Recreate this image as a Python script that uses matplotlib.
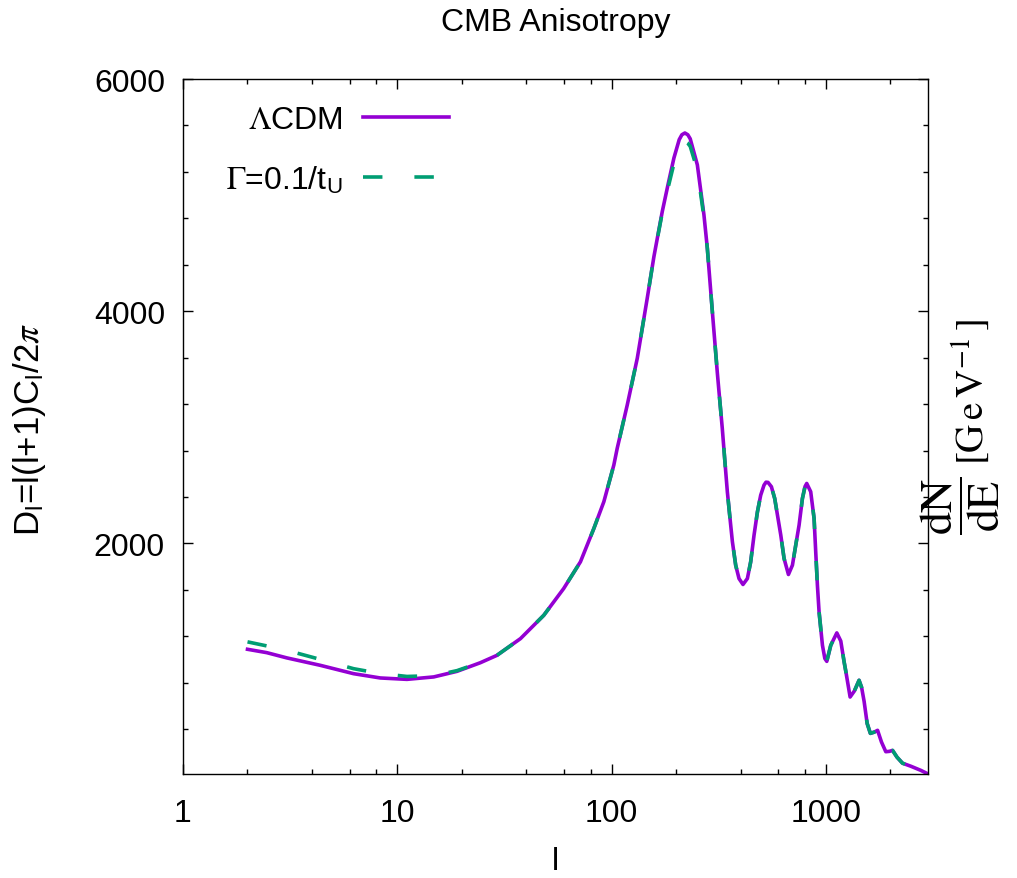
import numpy as np
import matplotlib
matplotlib.use("Agg")
import matplotlib.pyplot as plt
from matplotlib.ticker import FixedLocator, MultipleLocator, LogLocator, NullFormatter

plt.rcParams['font.family'] = ['Liberation Sans', 'DejaVu Sans']
plt.rcParams['mathtext.fontset'] = 'stix'
plt.rcParams['lines.scale_dashes'] = False

# multipole l and D_l
ell = [2, 2.46, 3.05, 4.37, 6.25, 8.33, 11.1, 14.8, 19.0, 24.4, 29.2, 37.6,
       48.3, 59.8, 71.6, 82.7, 92.1, 102.5, 106.3, 118.4, 131.9, 146.8, 157.7,
       172.6, 184, 195.5, 207, 213, 220, 227, 233, 251.5, 270, 280, 295.5,
       311.8, 317.4, 328.9, 337.3, 347.2, 357.3, 366.6, 379.8, 393.6, 410.8,
       430.6, 446.2, 462.6, 479.8, 496.9, 515, 526, 537.6, 557.5, 577.6, 598.5,
       616.6, 638.8, 669.5, 698.8, 724, 750.6, 778, 800, 815, 850.5, 881.9,
       897.6, 914, 930.5, 965, 990, 1011, 1055, 1126, 1175, 1218, 1240, 1299,
       1360, 1430, 1470, 1510, 1560, 1615, 1680, 1745, 1820, 1906, 1980, 2050,
       2150, 2281, 2494, 2779, 2990]

dl_lcdm = [1089, 1060, 1015, 951, 879, 842, 830, 851, 899, 973, 1037, 1181,
           1382, 1612, 1842, 2129, 2360, 2675, 2819, 3192, 3595, 4112, 4470,
           4860, 5100, 5319, 5478, 5520, 5535, 5520, 5485, 5261, 4830, 4543,
           3998, 3470, 3308, 2990, 2733, 2446, 2216, 2015, 1813, 1698, 1647,
           1698, 1842, 2072, 2273, 2416, 2503, 2528, 2526, 2489, 2388, 2216,
           2072, 1871, 1733, 1813, 1985, 2158, 2388, 2490, 2517, 2446, 2216,
           1928, 1641, 1411, 1123, 1010, 985, 1123, 1230, 1160, 980, 900, 678,
           730, 822, 760, 640, 450, 365, 375, 391, 290, 207, 210, 218, 160,
           108, 82, 46, 17]

dl_decay = [1153, 1118, 1080, 1002, 922, 880, 855, 862, 905, 975, 1037, 1181,
            1382, 1612, 1842, 2129, 2360, 2675, 2819, 3192, 3595, 4112, 4470,
            4850, 5070, 5270, 5413, 5450, 5463, 5447, 5420, 5216, 4810, 4543,
            3998, 3470, 3308, 2990, 2733, 2446, 2216, 2015, 1813, 1698, 1647,
            1698, 1842, 2072, 2273, 2416, 2503, 2528, 2526, 2489, 2388, 2216,
            2072, 1871, 1733, 1813, 1985, 2158, 2388, 2490, 2517, 2446, 2216,
            1928, 1641, 1411, 1123, 1010, 985, 1123, 1230, 1160, 980, 900, 678,
            730, 822, 760, 640, 450, 365, 375, 391, 290, 207, 210, 218, 160,
            108, 82, 46, 17]

purple = '#9400D3'
green = '#009E73'

fig = plt.figure(figsize=(10.17, 8.79), dpi=100)
ax = fig.add_axes([183/1017, 1 - 775/879, (928-183)/1017, (775-80)/879])

ax.plot(ell, dl_lcdm, color=purple, lw=2.6, label=r'$\Lambda$CDM')
ax.plot(ell, dl_decay, color=green, lw=2.6, dashes=(14, 23),
        label=r'$\Gamma$=0.1/t$_\mathregular{U}$')

ax.set_xscale('log')
ax.set_xlim(1, 3000)
ax.set_ylim(15, 6000)

ax.set_xticks([1, 10, 100, 1000])
ax.set_xticklabels(['1', '10', '100', '1000'])
ax.xaxis.set_minor_locator(LogLocator(base=10, subs=(2, 4, 6, 8), numticks=10))
ax.xaxis.set_minor_formatter(NullFormatter())
ax.yaxis.set_major_locator(FixedLocator([2000, 4000, 6000]))
ax.yaxis.set_minor_locator(MultipleLocator(400))

ax.tick_params(which='both', direction='in', top=True, right=True, width=1.0)
ax.tick_params(which='major', length=7)
ax.tick_params(which='minor', length=3.5)
ax.tick_params(axis='x', which='major', labelsize=23, pad=17)
ax.tick_params(axis='y', which='major', labelsize=23, pad=13)
for s in ax.spines.values():
    s.set_linewidth(1.0)

fig.text(0.546, 1 - 23/879, 'CMB Anisotropy', fontsize=23, ha='center', va='center')
fig.text(0.546, 1 - 862/879, 'l', fontsize=23, ha='center', va='center')
fig.text(30/1017, 0.512,
         r'D$_\mathregular{l}$=l(l+1)C$_\mathregular{l}$/2$\pi$',
         fontsize=25, rotation=90, ha='center', va='center')

# right-hand label: big fraction and the unit in brackets
fig.text(960/1017, 1 - 506/879,
         r'$\dfrac{\mathrm{dN}}{\mathrm{dE}}$',
         fontsize=33, rotation=90, ha='center', va='center')
fig.text(971/1017, 1 - 392/879,
         r'$[\mathrm{G\,e\,V}^{-1}\,]$',
         fontsize=28, rotation=90, ha='center', va='center')

leg = ax.legend(loc='upper right', bbox_to_anchor=(449/1017, 1 - 106/879),
                bbox_transform=fig.transFigure, frameon=False, markerfirst=False,
                fontsize=23, handlelength=2.7, handletextpad=0.62,
                labelspacing=0.92, borderpad=0, borderaxespad=0)

fig.savefig('out.png', dpi=100)
